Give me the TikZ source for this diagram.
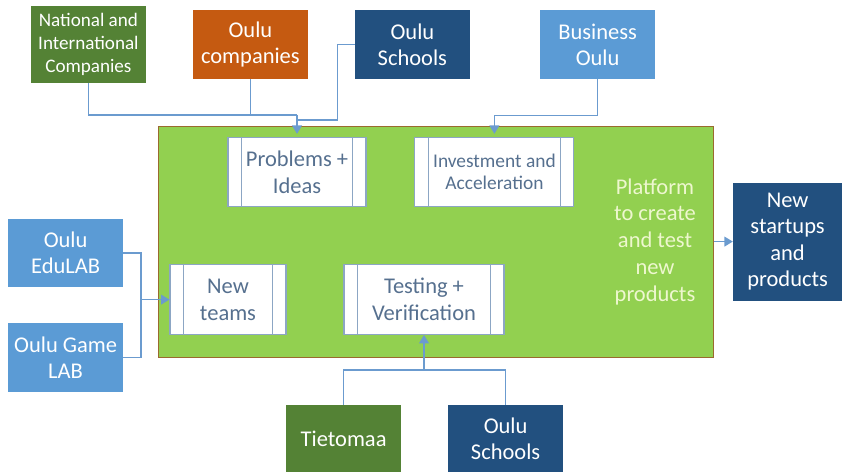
\documentclass[tikz,border=0pt]{standalone}
\usepackage{fontspec}
\setmainfont{Carlito}
\usetikzlibrary{arrows.meta}

\definecolor{darkgreen}{HTML}{548235}
\definecolor{darkorange}{HTML}{C55A11}
\definecolor{darkblue}{HTML}{22507F}
\definecolor{lightblue}{HTML}{5B9BD5}
\definecolor{platgreen}{HTML}{92D050}
\definecolor{platedge}{HTML}{9A6A2E}
\definecolor{linkblue}{HTML}{6B9BCF}
\definecolor{procedge}{HTML}{8CA6C4}
\definecolor{proctext}{HTML}{56708F}
\definecolor{paletext}{HTML}{EEF7CF}

\tikzset{
  box/.style={draw=none, text=white, align=center, minimum width=2.875cm, minimum height=1.725cm,
    font=\fontsize{16}{18.5}\selectfont},
  proc/.style={draw=procedge, fill=white, text=proctext, align=center, minimum height=1.74cm,
    line width=0.8pt, font=\fontsize{16}{19}\selectfont},
  link/.style={draw=linkblue, line width=0.9pt},
  arrow/.style={link, -{Triangle[width=7pt,length=6pt]}}
}

\begin{document}
\begin{tikzpicture}
\useasboundingbox (0,0) rectangle (21.05,11.9);

% sources at the top
\node[box, fill=darkgreen, minimum height=1.925cm, font=\fontsize{13.6}{16.3}\selectfont] (natcomp) at (2.21,10.79) {National and\\International\\Companies};
\node[box, fill=darkorange] (oulucomp) at (6.26,10.79) {Oulu\\companies};
\node[box, fill=darkblue] (schoolstop) at (10.31,10.79) {Oulu\\Schools};
\node[box, fill=lightblue] (business) at (14.94,10.79) {Business\\Oulu};

% the platform
\node[draw=platedge, fill=platgreen, line width=0.8pt, minimum width=13.875cm, minimum height=5.775cm] (platform) at (10.89,5.86) {};
\node[text=paletext, align=center, font=\fontsize{16}{19}\selectfont] (platlabel) at (16.375,5.86) {Platform\\to create\\and test\\new\\products};

\node[proc, minimum width=3.45cm] (problems) at (7.425,7.6) {Problems +\\Ideas};
\node[proc, minimum width=3.975cm, font=\fontsize{13.8}{15.2}\selectfont] (invest) at (12.36,7.6) {Investment and\\Acceleration};
\node[proc, minimum width=2.9cm] (teams) at (5.7,4.41) {New\\teams};
\node[proc, minimum width=4.0cm] (testing) at (10.6,4.41) {Testing +\\Verification};

% side bars of the process boxes
\foreach \p in {problems, invest, teams, testing} {
  \draw[procedge, line width=0.8pt] ([xshift=10pt]\p.north west) -- ([xshift=10pt]\p.south west);
  \draw[procedge, line width=0.8pt] ([xshift=-10pt]\p.north east) -- ([xshift=-10pt]\p.south east);
}

% output
\node[box, fill=darkblue, minimum width=2.725cm, minimum height=2.95cm] (startups) at (19.69,5.86) {New\\startups\\and\\products};

% labs on the left
\node[box, fill=lightblue, minimum height=1.7cm] (edulab) at (1.64,5.575) {Oulu\\EduLAB};
\node[box, fill=lightblue] (gamelab) at (1.64,2.96) {Oulu Game\\LAB};

% sources at the bottom
\node[box, fill=darkgreen, minimum height=1.675cm] (tietomaa) at (8.59,0.94) {Tietomaa};
\node[box, fill=darkblue, minimum height=1.675cm] (schoolsbot) at (12.64,0.94) {Oulu\\Schools};

% connectors
\coordinate (topjoin) at (7.425,9.025);
\coordinate (leftjoin) at (3.525,4.41);
\coordinate (botjoin) at (10.6,2.65);

\draw[link] (natcomp.south) |- (topjoin);
\draw[link] (oulucomp.south) |- (topjoin);
\draw[link] (schoolstop.west) -- ++(-0.43,0) |- (7.425,8.9);
\draw[arrow, shorten >=2pt] (topjoin) -- (problems.north);

\draw[arrow, shorten >=2pt] (business.south) -- ++(0,-0.9) -| (invest.north);

\draw[link] (edulab.east) -| (leftjoin);
\draw[link] (gamelab.east) -| (leftjoin);
\draw[arrow] (leftjoin) -- (teams.west);

\draw[link] (tietomaa.north) |- (botjoin) -| (schoolsbot.north);
\draw[arrow] (botjoin) -- (testing.south);

\draw[arrow] (platform.east) -- (startups.west);
\end{tikzpicture}
\end{document}
